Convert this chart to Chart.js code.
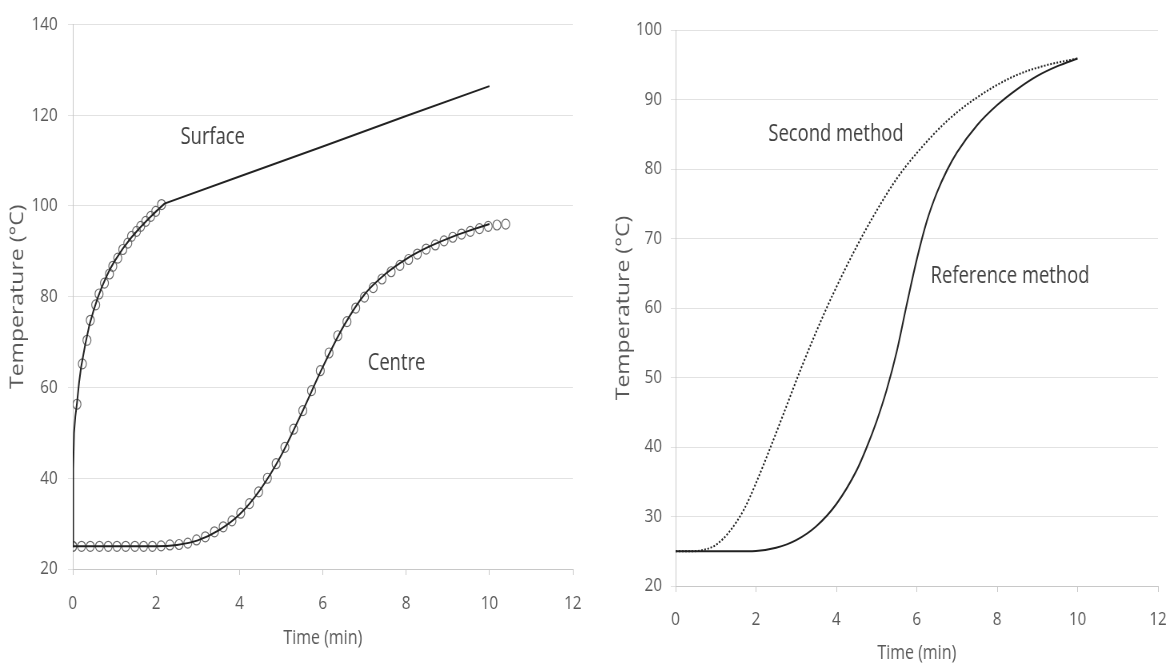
<!DOCTYPE html>
<html>
<head>
<meta charset="utf-8">
<script src="https://cdn.jsdelivr.net/npm/chart.js@4"></script>
<style>
  body { margin: 0; background: #fff; overflow: hidden; }
  .panel { position: absolute; top: 0; transform: scaleX(0.8); transform-origin: 0 0; }
  #panelLeft { left: 0; }
  #panelRight { left: 590px; }
</style>
</head>
<body>
<div class="panel" id="panelLeft"><canvas id="chartLeft" width="738" height="666"></canvas></div>
<div class="panel" id="panelRight"><canvas id="chartRight" width="729" height="666"></canvas></div>
<script>
// --- left panel: surface / centre temperature ---
const surfaceLineTime = [0, 0.01, 0.03, 0.06, 0.1, 0.15, 0.2, 0.3, 0.4, 0.5, 0.6, 0.7, 0.8, 0.9, 1.0, 1.2, 1.4, 1.6, 1.8, 2.0, 2.2, 4, 6, 8, 10];
const surfaceLineTemp = [25, 42, 50, 53.5, 56.5, 61, 64.5, 69.5, 73.8, 77, 79.8, 82.2, 84.3, 86.2, 87.8, 90.6, 93, 95.1, 97, 98.8, 100.5, 106.5, 113.1, 119.8, 126.4];

const surfacePtsTime = [0, 0.10, 0.23, 0.34, 0.42, 0.55, 0.63, 0.76, 0.88, 0.96, 1.08, 1.20, 1.32, 1.41, 1.53, 1.63, 1.75, 1.87, 1.99, 2.13];
const surfacePtsTemp = [25, 56.3, 65.2, 70.4, 74.8, 78.2, 80.6, 83, 85, 86.7, 88.5, 90.4, 91.8, 93.3, 94.4, 95.5, 96.6, 97.7, 98.8, 100.3];

const centreLineTime = [0, 0.5, 1, 1.5, 2, 2.5, 3, 3.5, 4, 4.5, 5, 5.5, 6, 6.5, 7, 7.5, 8, 8.5, 9, 9.5, 10];
const centreLineTemp = [25, 25, 25, 25, 25, 25.3, 26.3, 28.5, 32, 37.5, 45, 54.5, 64.5, 73.5, 80.5, 85, 88.3, 90.8, 92.8, 94.5, 96];

const centrePtsTime = [0, 0.21, 0.42, 0.64, 0.85, 1.06, 1.27, 1.49, 1.70, 1.91, 2.12, 2.33, 2.55, 2.76, 2.97, 3.18, 3.40, 3.61, 3.82, 4.03,
  4.24, 4.46, 4.67, 4.88, 5.09, 5.30, 5.52, 5.73, 5.94, 6.15, 6.36, 6.58, 6.79, 7.00, 7.21, 7.42, 7.64, 7.85, 8.06, 8.27,
  8.48, 8.70, 8.91, 9.12, 9.33, 9.54, 9.76, 9.97, 10.18, 10.39];
const centrePtsTemp = [25, 25, 25, 25, 25, 25, 25, 25, 25, 25, 25.1, 25.3, 25.4, 25.7, 26.4, 27.1, 28.2, 29.3, 30.6, 32.3,
  34.4, 37.0, 40.0, 43.2, 46.8, 50.8, 54.9, 59.3, 63.7, 67.6, 71.4, 74.5, 77.5, 79.9, 82.0, 83.9, 85.5, 86.9, 88.2, 89.4,
  90.5, 91.4, 92.3, 93.1, 93.8, 94.4, 95.0, 95.5, 95.8, 96.0];

// --- right panel: two prediction methods for the centre ---
const refTime = [0, 1, 1.5, 2, 2.5, 3, 3.5, 4, 4.5, 4.75, 5.0, 5.25, 5.5, 5.75, 6.0, 6.25, 6.5, 6.75, 7.0, 7.5, 8.0, 8.5, 9.0, 9.5, 10];
const refTemp = [25, 25, 25, 25.05, 25.5, 26.6, 28.6, 31.8, 36.6, 39.9, 43.7, 48.2, 53.7, 60.5, 67, 72.5, 76.6, 79.8, 82.4, 86.3, 89.2, 91.5, 93.4, 94.8, 95.9];

const secondTime = [0, 0.4, 0.7, 1.0, 1.35, 1.7, 2.0, 2.35, 2.7, 3.1, 3.5, 3.9, 4.5, 5.0, 5.5, 6.0, 6.75, 7.5, 8.4, 9.2, 10];
const secondTemp = [25, 25, 25.2, 25.9, 27.9, 31, 34.8, 39.8, 45, 51, 56.6, 61.8, 68.8, 74, 78.6, 82.3, 86.9, 90.3, 93.3, 94.9, 95.9];

const timeTicks = [0, 2, 4, 6, 8, 10, 12];

const textFont = "'Open Sans', 'Noto Sans', sans-serif";

function toPoints(xs, ys) {
  return xs.map((x, i) => ({ x: x, y: ys[i] }));
}

// draws the in-plot captions at data coordinates
const textLabels = {
  id: 'textLabels',
  afterDatasetsDraw(chart, args, opts) {
    const ctx = chart.ctx;
    ctx.save();
    ctx.font = '23px ' + textFont;
    ctx.fillStyle = '#404040';
    ctx.textAlign = 'center';
    ctx.textBaseline = 'middle';
    opts.items.forEach(item => {
      ctx.fillText(item.text, chart.scales.x.getPixelForValue(item.x), chart.scales.y.getPixelForValue(item.y));
    });
    ctx.restore();
  }
};

function makeScales(s) {
  return {
    x: {
      type: 'linear',
      min: 0, max: 12,
      afterBuildTicks: axis => { axis.ticks = timeTicks.map(v => ({ value: v })); },
      afterFit: axis => {
        axis.height = s.xHeight;
        // label overhang is already covered by layout padding
        axis.paddingLeft = 0;
        axis.paddingRight = 0;
      },
      grid: { drawOnChartArea: false, drawTicks: true, tickLength: 6, color: '#c8c8c8' },
      border: { display: true, color: '#c8c8c8' },
      ticks: { color: '#595959', padding: s.xTickPad, font: { family: textFont, size: 19 } },
      title: { display: true, text: 'Time (min)', color: '#595959',
        font: { family: textFont, size: 20 }, padding: { top: 0, bottom: s.xTitlePad } }
    },
    y: {
      min: s.yMin, max: s.yMax,
      ticks: { stepSize: s.yStep, color: '#595959', padding: s.yTickPad, font: { family: textFont, size: 19 } },
      afterFit: axis => { axis.width = s.yWidth; },
      grid: { color: '#e2e2e2', tickLength: 6 },
      border: { display: true, color: '#c8c8c8' },
      title: { display: true, text: 'Temperature (°C)', color: '#595959',
        font: { family: textFont, size: 23 }, padding: { top: s.yTitlePad, bottom: 0 } }
    }
  };
}

new Chart(document.getElementById('chartLeft'), {
  type: 'scatter',
  data: {
    datasets: [
      {
        label: 'Surface',
        data: toPoints(surfaceLineTime, surfaceLineTemp),
        showLine: true, pointRadius: 0, borderColor: '#222', borderWidth: 2, tension: 0, order: 1
      },
      {
        label: 'Centre',
        data: toPoints(centreLineTime, centreLineTemp),
        showLine: true, pointRadius: 0, borderColor: '#222', borderWidth: 2,
        cubicInterpolationMode: 'monotone', order: 1
      },
      {
        label: 'Surface (measured)',
        data: toPoints(surfacePtsTime, surfacePtsTemp),
        pointRadius: 5, borderWidth: 1.2, borderColor: '#6a6a6a', backgroundColor: 'rgba(0,0,0,0)', order: 2
      },
      {
        label: 'Centre (measured)',
        data: toPoints(centrePtsTime, centrePtsTemp),
        pointRadius: 5, borderWidth: 1.2, borderColor: '#6a6a6a', backgroundColor: 'rgba(0,0,0,0)', order: 2
      }
    ]
  },
  options: {
    responsive: false,
    animation: false,
    layout: { padding: { left: 0, right: 22, top: 22, bottom: 0 } },
    scales: makeScales({ yMin: 20, yMax: 140, yStep: 20, yWidth: 91, xHeight: 97,
      xTickPad: 17, xTitlePad: 16, yTickPad: 13, yTitlePad: 9 }),
    plugins: {
      legend: { display: false },
      tooltip: { enabled: false },
      textLabels: { items: [
        { text: 'Surface', x: 3.36, y: 115 },
        { text: 'Centre', x: 7.77, y: 65.4 }
      ] }
    }
  },
  plugins: [textLabels]
});

new Chart(document.getElementById('chartRight'), {
  type: 'scatter',
  data: {
    datasets: [
      {
        label: 'Second method',
        data: toPoints(secondTime, secondTemp),
        showLine: true, pointRadius: 0, borderColor: '#222', borderWidth: 2, borderDash: [2, 2],
        cubicInterpolationMode: 'monotone'
      },
      {
        label: 'Reference method',
        data: toPoints(refTime, refTemp),
        showLine: true, pointRadius: 0, borderColor: '#222', borderWidth: 2,
        cubicInterpolationMode: 'monotone'
      }
    ]
  },
  options: {
    responsive: false,
    animation: false,
    layout: { padding: { left: 0, right: 19, top: 30, bottom: 0 } },
    scales: makeScales({ yMin: 20, yMax: 100, yStep: 10, yWidth: 107, xHeight: 80,
      xTickPad: 16, xTitlePad: 1, yTickPad: 11, yTitlePad: 29 }),
    plugins: {
      legend: { display: false },
      tooltip: { enabled: false },
      textLabels: { items: [
        { text: 'Second method', x: 3.99, y: 84.9 },
        { text: 'Reference method', x: 8.32, y: 64.6 }
      ] }
    }
  },
  plugins: [textLabels]
});
</script>
</body>
</html>
